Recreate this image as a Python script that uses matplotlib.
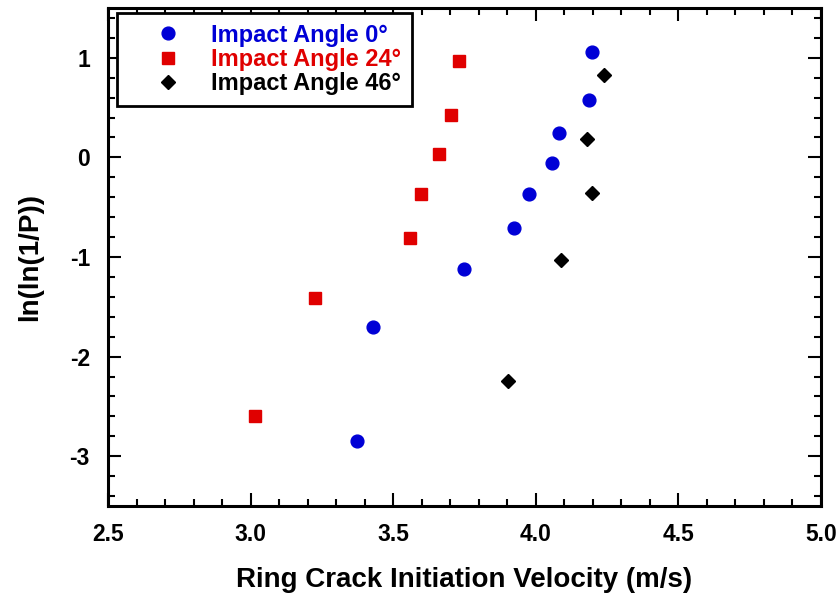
import numpy as np
import matplotlib.pyplot as plt
from matplotlib.ticker import MultipleLocator

plt.rcParams['font.family'] = ['Liberation Sans', 'DejaVu Sans']
plt.rcParams['font.weight'] = 'bold'

# data
v_0 = [4.196, 4.187, 4.080, 4.057, 3.976, 3.925, 3.749, 3.430, 3.374]
p_0 = [1.057, 0.58, 0.247, -0.057, -0.367, -0.707, -1.117, -1.70, -2.847]
v_24 = [3.730, 3.702, 3.660, 3.599, 3.559, 3.225, 3.016]
p_24 = [0.967, 0.43, 0.03, -0.363, -0.813, -1.41, -2.593]
v_46 = [4.239, 4.180, 4.197, 4.087, 3.903]
p_46 = [0.83, 0.187, -0.36, -1.027, -2.24]

fig = plt.figure(figsize=(8.4, 5.96), dpi=100)
ax = fig.add_axes([0.1286, 0.151, 0.8488, 0.8356])

ax.plot(v_0, p_0, 'o', color='#0000d6', markersize=9.2, label='Impact Angle 0°')
ax.plot(v_24, p_24, 's', color='#e00000', markersize=9.2, label='Impact Angle 24°')
ax.plot(v_46, p_46, 'D', color='black', markersize=7.5, label='Impact Angle 46°')

ax.set_xlim(2.5, 5.0)
ax.set_ylim(-3.5, 1.5)
ax.xaxis.set_major_locator(MultipleLocator(0.5))
ax.xaxis.set_minor_locator(MultipleLocator(0.1))
ax.yaxis.set_major_locator(MultipleLocator(1))
ax.yaxis.set_minor_locator(MultipleLocator(0.2))
ax.xaxis.set_major_formatter(plt.FormatStrFormatter('%.1f'))
ax.yaxis.set_major_formatter(plt.FormatStrFormatter('%d'))

ax.tick_params(which='both', direction='in', top=True, right=True, width=1.5, labelsize=16.5)
ax.tick_params(axis='x', pad=12)
ax.tick_params(axis='y', pad=13)
ax.tick_params(which='major', length=9.5)
ax.tick_params(which='minor', length=5)
for s in ax.spines.values():
    s.set_linewidth(2.2)

ax.set_xlabel('Ring Crack Initiation Velocity (m/s)', fontsize=20, fontweight='bold', labelpad=15)
ax.set_ylabel('ln(ln(1/P))', fontsize=20, fontweight='bold', labelpad=19)

leg = ax.legend(loc='upper left', bbox_to_anchor=(0.0125, 0.99), fontsize=17, labelcolor='linecolor',
                fancybox=False, edgecolor='black', framealpha=1, handletextpad=0.15,
                borderpad=0.45, labelspacing=0.05, handlelength=3.4, borderaxespad=0)
leg.get_frame().set_linewidth(2)

fig.savefig('out.png', dpi=100)
